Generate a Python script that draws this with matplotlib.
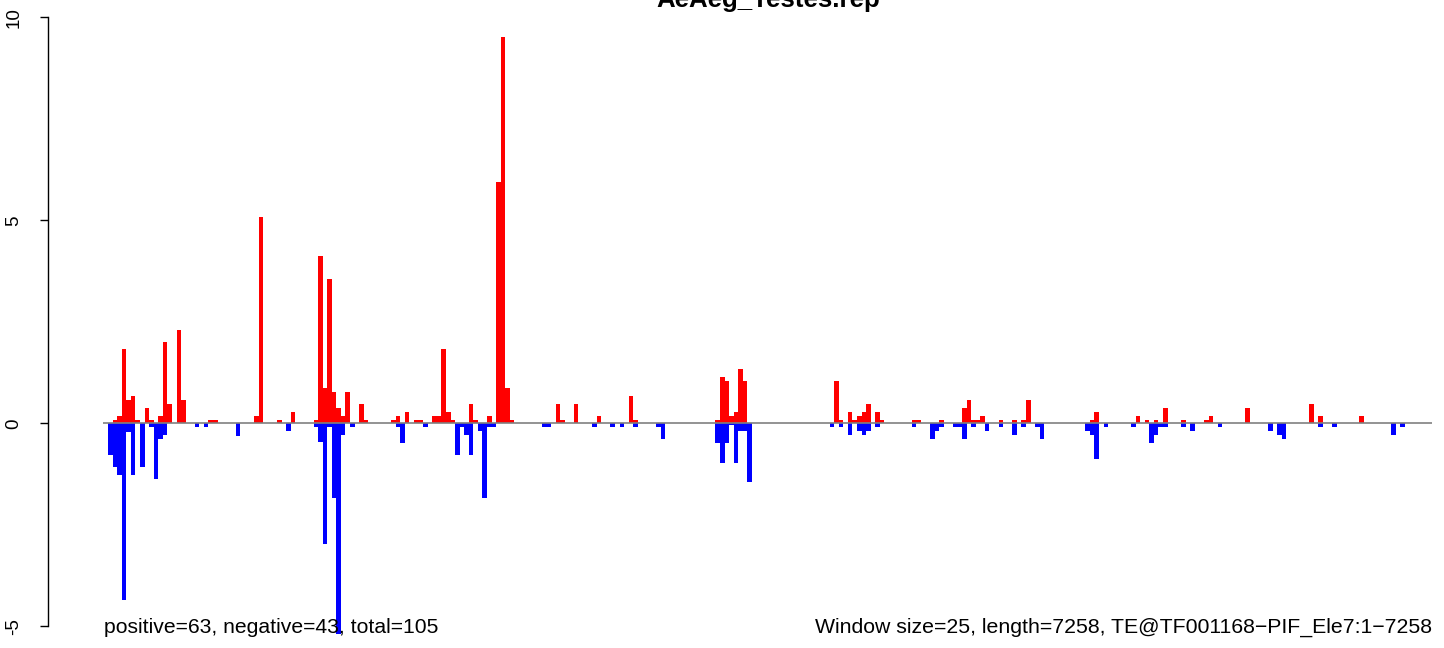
import numpy as np
import matplotlib
matplotlib.use("Agg")
import matplotlib.pyplot as plt

plt.rcParams['font.family'] = ['Liberation Sans', 'DejaVu Sans']

# window index (25 bp windows) and score of each bar
pos_idx = [1, 2, 3, 4, 5, 6, 8, 9, 11, 12, 13, 15, 16, 22, 23,
           32, 33, 37, 40, 45, 46, 47, 48, 49, 50, 51, 52, 55, 56,
           62, 63, 65, 67, 68, 71, 72, 73, 74, 75, 79, 80, 83, 85, 86, 87, 88,
           98, 99, 102, 107, 114, 115,
           133, 134, 135, 136, 137, 138, 139,
           159, 160, 162, 163, 164, 165, 166, 168, 169, 176, 177, 182,
           187, 188, 189, 190, 191, 195, 198, 200, 201, 215, 216,
           225, 227, 229, 231, 235, 240, 241, 249,
           263, 265, 274]
pos_val = [0.08, 0.18, 1.83, 0.57, 0.67, 0.08, 0.38, 0.08, 0.18, 2.0, 0.48, 2.3, 0.57, 0.08, 0.08,
           0.18, 5.08, 0.08, 0.28, 0.08, 4.12, 0.87, 3.55, 0.78, 0.38, 0.19, 0.78, 0.48, 0.08,
           0.08, 0.18, 0.28, 0.08, 0.08, 0.18, 0.18, 1.83, 0.28, 0.08, 0.48, 0.08, 0.18, 5.94, 9.52, 0.87, 0.08,
           0.48, 0.08, 0.48, 0.18, 0.67, 0.08,
           0.08, 1.15, 1.04, 0.18, 0.28, 1.34, 1.04,
           1.04, 0.08, 0.28, 0.08, 0.18, 0.28, 0.48, 0.28, 0.08, 0.08, 0.08, 0.08,
           0.38, 0.57, 0.08, 0.08, 0.18, 0.08, 0.08, 0.08, 0.57, 0.08, 0.28,
           0.18, 0.08, 0.08, 0.38, 0.08, 0.08, 0.18, 0.38,
           0.48, 0.18, 0.18]

neg_idx = [0, 1, 2, 3, 4, 5, 7, 9, 10, 11, 12, 19, 21,
           28, 39, 45, 46, 47, 48, 49, 50, 51, 53,
           63, 64, 69, 76, 77, 78, 79, 81, 82, 83, 84,
           95, 96, 106, 110, 112, 115, 120, 121,
           133, 134, 135, 136, 137, 138, 139, 140,
           158, 160, 162, 164, 165, 166, 168, 176, 180, 181, 182, 185, 186,
           187, 189, 192, 195, 198, 200, 203, 204, 214, 215, 216,
           218, 224, 228, 229, 230, 231, 235, 237, 243,
           254, 256, 257, 265, 268, 281, 283]
neg_val = [-0.78, -1.07, -1.27, -4.35, -0.21, -1.27, -1.07, -0.1, -1.37, -0.38, -0.3, -0.1, -0.1,
           -0.31, -0.2, -0.1, -0.47, -2.98, -0.1, -1.83, -5.2, -0.3, -0.1,
           -0.1, -0.48, -0.1, -0.77, -0.1, -0.3, -0.77, -0.2, -1.83, -0.1, -0.1,
           -0.1, -0.1, -0.1, -0.1, -0.1, -0.1, -0.1, -0.38,
           -0.48, -0.97, -0.48, -0.05, -0.97, -0.2, -0.2, -1.44,
           -0.1, -0.1, -0.3, -0.2, -0.3, -0.2, -0.1, -0.1, -0.38, -0.2, -0.1, -0.1, -0.1,
           -0.38, -0.1, -0.2, -0.1, -0.3, -0.1, -0.1, -0.38, -0.2, -0.3, -0.87,
           -0.1, -0.1, -0.48, -0.3, -0.1, -0.1, -0.1, -0.2, -0.1,
           -0.2, -0.3, -0.38, -0.1, -0.1, -0.3, -0.1]

n_windows = 290
title = "AeAeg_Testes.rep"
left_note = "positive=63, negative=43, total=105"
right_note = "Window size=25, length=7258, TE@TF001168\u2212PIF_Ele7:1\u22127258"

W, H = 1444, 648
fig = plt.figure(figsize=(W / 100, H / 100), dpi=100)
ax = fig.add_axes([48 / W, 0, (W - 48) / W, 1])

ax.bar(pos_idx, pos_val, width=1, align='edge', color='#FF0000', linewidth=0, antialiased=False)
ax.bar(neg_idx, neg_val, width=1, align='edge', color='#0000FF', linewidth=0, antialiased=False)
ax.hlines(0, -1, n_windows, color='#808080', linewidth=1.2, zorder=3)

px = 4.567   # pixels per window
ax.set_xlim((48 - 108) / px, (W - 108) / px)
ax.set_ylim((423.3 - 648) / 40.6, 423.3 / 40.6)

for s in ['top', 'right', 'bottom']:
    ax.spines[s].set_visible(False)
ax.spines['left'].set_bounds(-5, 10)
ax.spines['left'].set_linewidth(1.0)
ax.set_xticks([])
ax.set_yticks([-5, 0, 5, 10])
ax.set_yticklabels(['-5', '0', '5', '10'], rotation=90, va='center', fontsize=13.5)
ax.tick_params(axis='y', direction='out', length=5.5, width=1.0, pad=13)
ax.patch.set_alpha(0)

# title sits partly above the top edge, as in the original R output
fig.text(768 / W, 1 - 7 / H, title, ha='center', va='baseline', fontsize=18.6, fontweight='bold')
fig.text(104 / W, 1 - 633 / H, left_note, ha='left', va='baseline', fontsize=15.2)
fig.text(1432 / W, 1 - 633 / H, right_note, ha='right', va='baseline', fontsize=15.35)

fig.savefig('out.png', dpi=100)
